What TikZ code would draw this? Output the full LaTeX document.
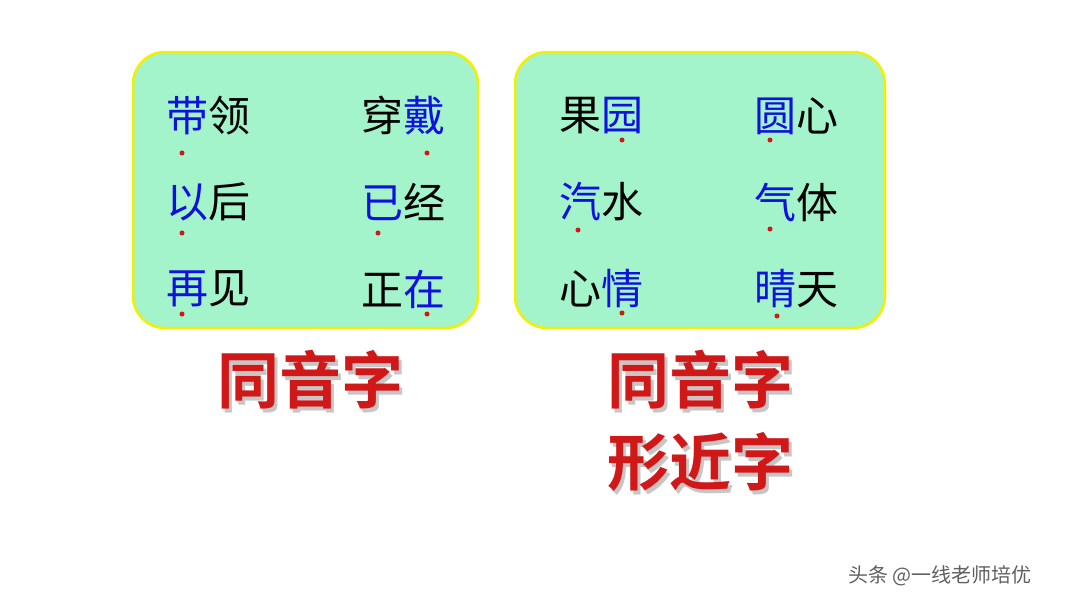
\documentclass[tikz,border=0pt]{standalone}
\usepackage{fontspec}
\newfontfamily\cjk{Noto Sans CJK SC}
\newfontfamily\cjkb{Noto Sans CJK SC Bold}
\definecolor{boxg}{HTML}{A3F3CB}
\definecolor{boxy}{HTML}{F2F000}
\definecolor{cblue}{HTML}{1010E0}
\definecolor{cred}{HTML}{D01818}
\begin{document}
\begin{tikzpicture}[x=1pt,y=-1pt,
  panel/.style={draw=boxy,line width=2.5pt,fill=boxg,rounded corners=32pt},
  word/.style={font=\cjk\fontsize{42}{44}\selectfont,inner sep=0pt,anchor=center},
  dotm/.style={circle,fill=cred,inner sep=0pt,minimum size=5pt},
  big/.style={font=\cjkb\fontsize{62}{64}\selectfont,text=cred,inner sep=0pt}]
\useasboundingbox[fill=white] (0,0) rectangle (1080,608);
\draw[panel] (133,52) rectangle (478,328);
\draw[panel] (515,52) rectangle (885,328);
% left panel
\node[word] (w1) at (208,116) {\textcolor{cblue}{带}领};
\node[word] (w2) at (403,116) {穿\textcolor{cblue}{戴}};
\node[word] (w3) at (208,202) {\textcolor{cblue}{以}后};
\node[word] (w4) at (403,202) {\textcolor{cblue}{已}经};
\node[word] (w5) at (208,289) {\textcolor{cblue}{再}见};
\node[word] (w6) at (403,289) {正\textcolor{cblue}{在}};
% right panel
\node[word] (r1) at (601,116) {果\textcolor{cblue}{园}};
\node[word] (r2) at (796,116) {\textcolor{cblue}{圆}心};
\node[word] (r3) at (601,202) {\textcolor{cblue}{汽}水};
\node[word] (r4) at (796,202) {\textcolor{cblue}{气}体};
\node[word] (r5) at (601,289) {心\textcolor{cblue}{情}};
\node[word] (r6) at (796,289) {\textcolor{cblue}{晴}天};
% dots
\foreach \n/\x/\y in {d1/182/153,d2/427/153,d3/182/233,d4/378/233,d5/182/314,d6/427/314,
  d7/622/140,d8/770/140,d9/578/230,d10/770/229,d11/622/313,d12/777/316}
  \node[dotm] (\n) at (\x,\y) {};
% labels
\node[big,text=gray!45] at (313,384) {同音字};
\node[big] (t1) at (310,380) {同音字};
\node[big,text=gray!45] at (703,384) {同音字};
\node[big] (t2) at (700,380) {同音字};
\node[big,text=gray!45] at (703,466) {形近字};
\node[big] (t3) at (700,462) {形近字};
\node[font=\cjk\fontsize{20}{22}\selectfont,text=gray!75!black] (wm) at (940,576) {头条 @一线老师培优};
\end{tikzpicture}
\end{document}
